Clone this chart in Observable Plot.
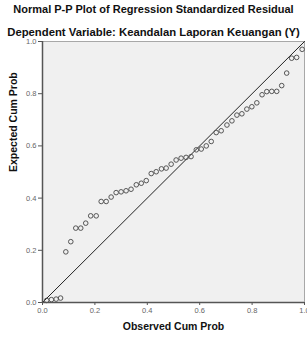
<!DOCTYPE html>
<html><head><meta charset="utf-8">
<script src="https://cdn.jsdelivr.net/npm/d3@7"></script>
<script src="https://cdn.jsdelivr.net/npm/@observablehq/plot@0.6"></script>
<style>
body{margin:0;background:#fff;font-family:Arial,"Liberation Sans",sans-serif;}
#wrap{width:307px;height:337px;overflow:hidden}
.t{font-weight:bold;text-align:center;color:#111;white-space:nowrap}
#chart svg{display:block}
</style></head><body>
<div id="wrap">
<div class="t" style="font-size:11px;height:19px;line-height:19px">Normal P-P Plot of Regression Standardized Residual</div>
<div class="t" style="font-size:11.3px;height:16px;line-height:16px;position:relative;top:5px">Dependent Variable: Keandalan Laporan Keuangan (Y)</div>
<div id="chart"></div>
</div>
<script>
const observed = [0.016,0.034,0.052,0.069,0.089,0.108,0.127,0.146,0.165,0.184,0.205,0.224,0.243,0.262,0.281,0.300,0.319,0.338,0.358,0.377,0.396,0.415,0.434,0.454,0.472,0.491,0.510,0.529,0.548,0.567,0.587,0.606,0.625,0.644,0.663,0.682,0.704,0.723,0.742,0.761,0.780,0.799,0.818,0.838,0.856,0.875,0.894,0.913,0.932,0.951,0.970,0.991];
const expected = [0.008,0.011,0.013,0.017,0.194,0.233,0.285,0.285,0.304,0.332,0.332,0.387,0.387,0.404,0.421,0.424,0.428,0.434,0.451,0.457,0.467,0.494,0.501,0.512,0.515,0.530,0.546,0.553,0.556,0.559,0.585,0.588,0.600,0.617,0.651,0.658,0.680,0.696,0.718,0.723,0.741,0.750,0.765,0.796,0.808,0.809,0.809,0.831,0.879,0.936,0.939,0.970];
const tickValues = [0, 0.2, 0.4, 0.6, 0.8, 1.0];
const diagonal = [0, 1];
const xLabel = "Observed Cum Prob";
const yLabel = "Expected Cum Prob";

const data = observed.map((x, i) => ({x, y: expected[i]}));
const font = "Arial, 'Liberation Sans', sans-serif";
const chart = Plot.plot({
  width: 307, height: 302,
  marginTop: 6, marginBottom: 35, marginLeft: 42, marginRight: 3,
  x: {domain: [0, 1]}, y: {domain: [0, 1]},
  style: {background: "transparent", fontFamily: font, overflow: "visible"},
  marks: [
    Plot.frame({fill: "#f0f0f0", stroke: "#a8a8a8"}),
    Plot.line(diagonal, {x: d => d, y: d => d, stroke: "#222", strokeWidth: 1}),
    Plot.dot(data, {x: "x", y: "y", r: 2.3, stroke: "#555", fill: "none", strokeWidth: 1}),
    Plot.ruleX([0], {stroke: "#555", strokeWidth: 1.5}),
    Plot.ruleY([0], {stroke: "#555", strokeWidth: 1.5}),
    Plot.axisX({ticks: tickValues, tickFormat: d3.format(".1f"), tickSize: 3, tickPadding: 2, fontSize: 7.5, stroke: "#555", fill: "#666", label: null}),
    Plot.axisY({ticks: tickValues, tickFormat: d3.format(".1f"), tickSize: 4, tickPadding: 2, fontSize: 7.5, stroke: "#555", fill: "#666", label: null}),
    Plot.text([xLabel], {frameAnchor: "bottom", dy: 24, text: d => d, fontSize: 10.5, fontWeight: "bold", fill: "#111", lineAnchor: "middle"}),
    Plot.text([yLabel], {frameAnchor: "left", dx: -28.5, text: d => d, rotate: -90, fontSize: 10.5, fontWeight: "bold", fill: "#111", lineAnchor: "middle"})
  ]
});
document.getElementById("chart").appendChild(chart);
</script>
</body></html>
